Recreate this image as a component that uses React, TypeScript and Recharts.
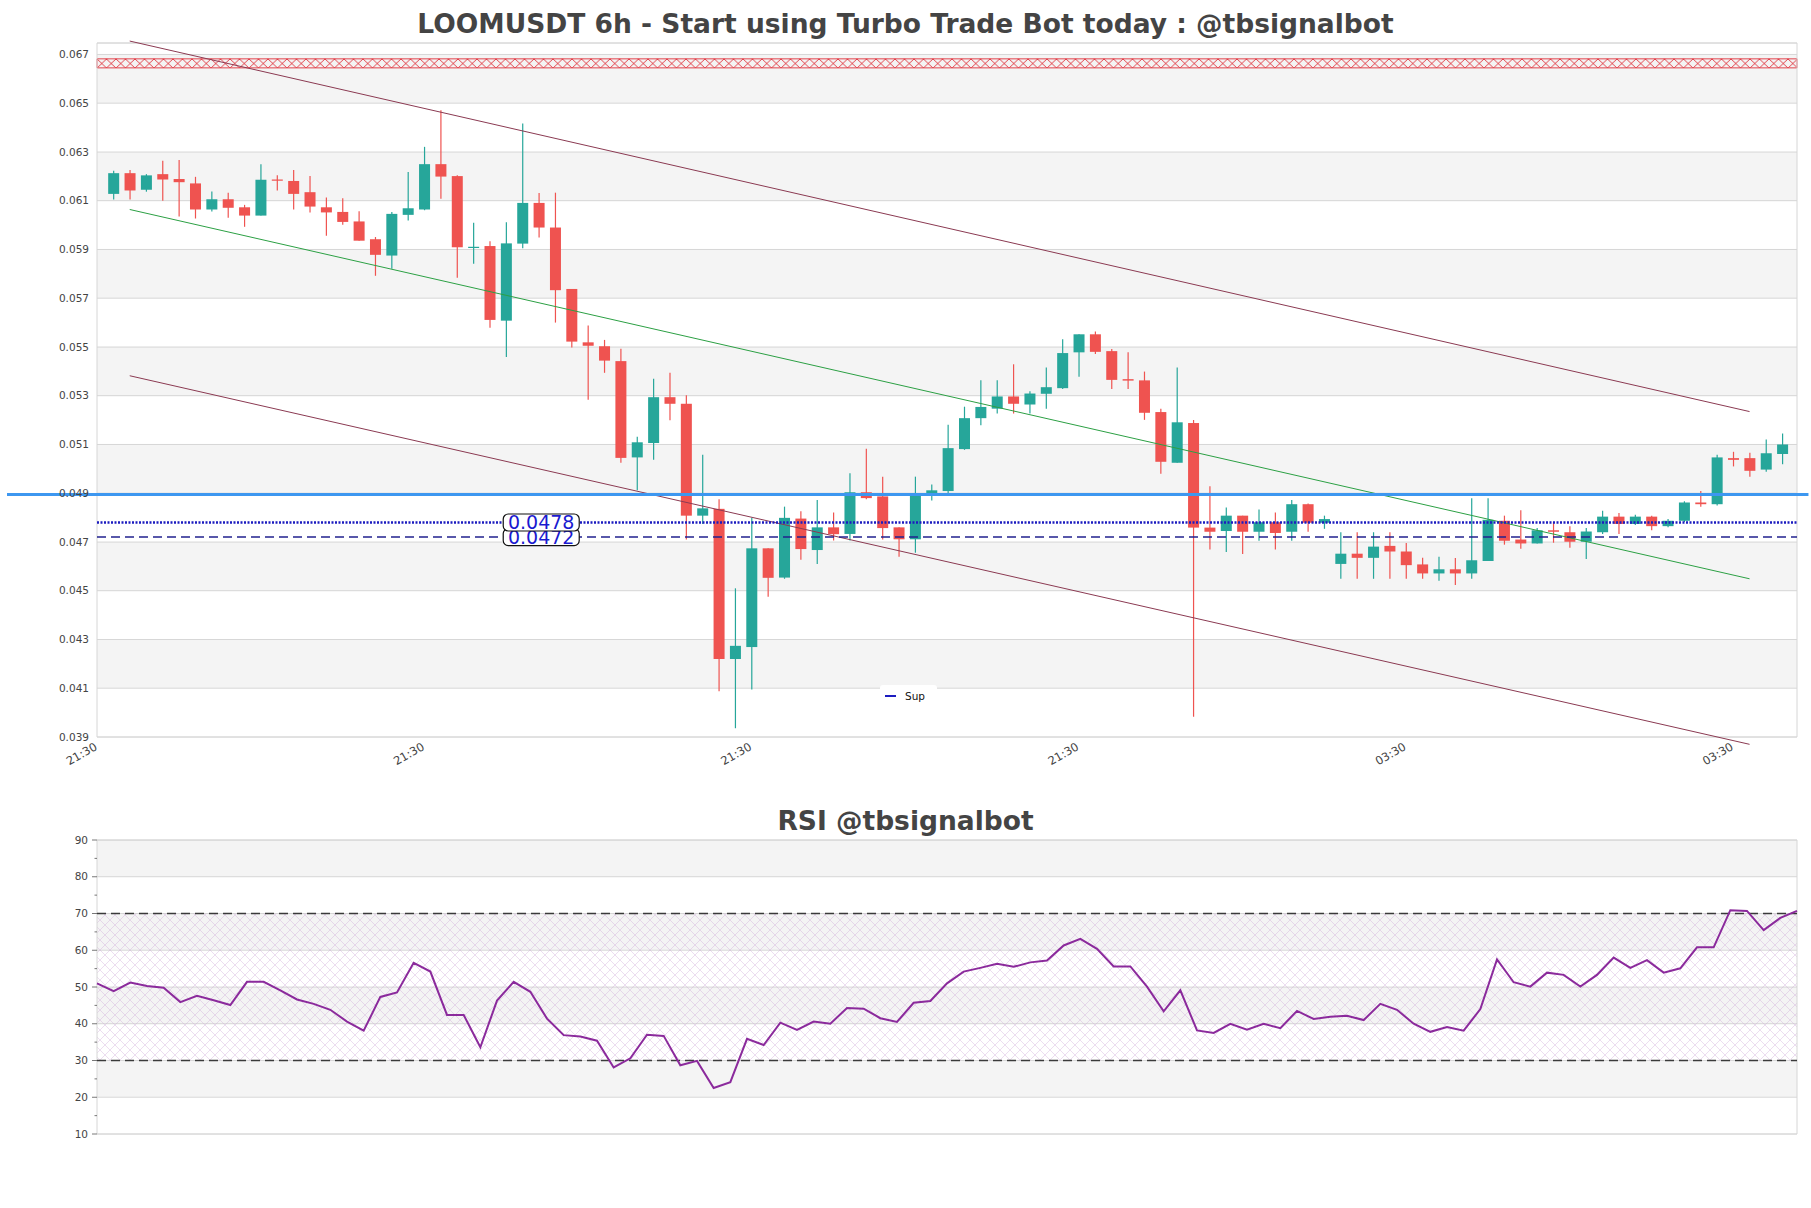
import React from 'react';
import {
  ComposedChart, Bar, Line, XAxis, YAxis, CartesianGrid,
  ReferenceArea, ReferenceLine, ReferenceDot,
} from 'recharts';

// ============================================================
// LOOMUSDT 6h candles + RSI panel (@tbsignalbot style)
// ============================================================

const opens = [
  0.06128, 0.06213, 0.06145, 0.06209, 0.06189, 0.06171, 0.06064, 0.06106, 0.06073, 0.06039,
  0.06187, 0.06181, 0.06135, 0.06073, 0.06054, 0.06015, 0.05942, 0.05875, 0.06042, 0.06064,
  0.06250, 0.06201, 0.05909, 0.05914, 0.05608, 0.05924, 0.06091, 0.05990, 0.05738, 0.05519,
  0.05503, 0.05442, 0.05047, 0.05106, 0.05294, 0.05267, 0.04808, 0.04836, 0.04220, 0.04269,
  0.04674, 0.04554, 0.04796, 0.04667, 0.04760, 0.04733, 0.04904, 0.04887, 0.04760, 0.04711,
  0.04892, 0.04909, 0.05081, 0.05208, 0.05247, 0.05297, 0.05264, 0.05308, 0.05331, 0.05478,
  0.05552, 0.05483, 0.05368, 0.05363, 0.05233, 0.05025, 0.05188, 0.04759, 0.04745, 0.04808,
  0.04742, 0.04781, 0.04742, 0.04855, 0.04779, 0.04610, 0.04652, 0.04635, 0.04684, 0.04661,
  0.04608, 0.04571, 0.04588, 0.04571, 0.04622, 0.04787, 0.04710, 0.04694, 0.04748, 0.04740,
  0.04701, 0.04740, 0.04804, 0.04774, 0.04804, 0.04765, 0.04787, 0.04862, 0.04855, 0.05044,
  0.05044, 0.04997, 0.05061,
];
const highs = [
  0.06223, 0.06226, 0.06209, 0.06264, 0.06267, 0.06198, 0.06138, 0.06133, 0.06083, 0.06250,
  0.06204, 0.06226, 0.06201, 0.06113, 0.06110, 0.06057, 0.05951, 0.06054, 0.06218, 0.06321,
  0.06471, 0.06204, 0.06010, 0.05934, 0.06012, 0.06417, 0.06132, 0.06133, 0.05738, 0.05588,
  0.05529, 0.05493, 0.05132, 0.05370, 0.05394, 0.05302, 0.05058, 0.04875, 0.04510, 0.04799,
  0.04674, 0.04845, 0.04826, 0.04872, 0.04821, 0.04982, 0.05083, 0.04968, 0.04760, 0.04968,
  0.04936, 0.05181, 0.05255, 0.05363, 0.05363, 0.05429, 0.05318, 0.05416, 0.05532, 0.05552,
  0.05563, 0.05492, 0.05478, 0.05399, 0.05247, 0.05416, 0.05200, 0.04929, 0.04841, 0.04808,
  0.04833, 0.04821, 0.04872, 0.04858, 0.04808, 0.04740, 0.04740, 0.04740, 0.04740, 0.04696,
  0.04635, 0.04639, 0.04634, 0.04879, 0.04879, 0.04808, 0.04830, 0.04757, 0.04782, 0.04765,
  0.04757, 0.04828, 0.04819, 0.04812, 0.04808, 0.04794, 0.04867, 0.04909, 0.05058, 0.05070,
  0.05066, 0.05120, 0.05145,
];
const lows = [
  0.06105, 0.06105, 0.06137, 0.06100, 0.06035, 0.06027, 0.06056, 0.06030, 0.05993, 0.06039,
  0.06142, 0.06064, 0.06052, 0.05956, 0.06001, 0.05936, 0.05792, 0.05821, 0.06019, 0.06061,
  0.06108, 0.05784, 0.05841, 0.05579, 0.05459, 0.05905, 0.05949, 0.05600, 0.05498, 0.05284,
  0.05394, 0.05025, 0.04912, 0.05037, 0.05199, 0.04710, 0.04774, 0.04088, 0.03936, 0.04095,
  0.04475, 0.04549, 0.04627, 0.04610, 0.04706, 0.04706, 0.04875, 0.04710, 0.04639, 0.04656,
  0.04870, 0.04895, 0.05078, 0.05179, 0.05227, 0.05227, 0.05227, 0.05247, 0.05328, 0.05378,
  0.05471, 0.05328, 0.05328, 0.05201, 0.04980, 0.05025, 0.03983, 0.04669, 0.04659, 0.04651,
  0.04705, 0.04669, 0.04705, 0.04742, 0.04754, 0.04549, 0.04549, 0.04549, 0.04549, 0.04549,
  0.04549, 0.04541, 0.04524, 0.04549, 0.04622, 0.04689, 0.04672, 0.04694, 0.04697, 0.04676,
  0.04630, 0.04733, 0.04733, 0.04770, 0.04748, 0.04760, 0.04782, 0.04845, 0.04850, 0.05010,
  0.04968, 0.04988, 0.05019,
];
const closes = [
  0.06213, 0.06142, 0.06204, 0.06187, 0.06176, 0.06064, 0.06106, 0.06071, 0.06039, 0.06186,
  0.06182, 0.06128, 0.06076, 0.06052, 0.06013, 0.05936, 0.05878, 0.06046, 0.06069, 0.06250,
  0.06199, 0.05909, 0.05911, 0.05611, 0.05925, 0.06091, 0.05990, 0.05733, 0.05522, 0.05505,
  0.05444, 0.05045, 0.05109, 0.05294, 0.05267, 0.04808, 0.04838, 0.04220, 0.04274, 0.04674,
  0.04553, 0.04799, 0.04671, 0.04760, 0.04732, 0.04904, 0.04880, 0.04757, 0.04711, 0.04892,
  0.04912, 0.05085, 0.05208, 0.05254, 0.05297, 0.05267, 0.05309, 0.05335, 0.05475, 0.05552,
  0.05480, 0.05365, 0.05362, 0.05230, 0.05029, 0.05191, 0.04759, 0.04742, 0.04808, 0.04742,
  0.04781, 0.04737, 0.04855, 0.04779, 0.04794, 0.04652, 0.04635, 0.04681, 0.04661, 0.04605,
  0.04571, 0.04588, 0.04571, 0.04625, 0.04791, 0.04705, 0.04694, 0.04748, 0.04742, 0.04701,
  0.04743, 0.04804, 0.04774, 0.04804, 0.04765, 0.04787, 0.04862, 0.04855, 0.05047, 0.05037,
  0.04992, 0.05064, 0.05100,
];

const rsiValues = [
  51.0, 48.9, 51.2, 50.3, 49.8, 45.9, 47.6, 46.4, 45.1, 51.4,
  51.4, 49.1, 46.6, 45.4, 43.8, 40.6, 38.1, 47.3, 48.5, 56.6,
  54.2, 42.4, 42.4, 33.6, 46.3, 51.4, 48.7, 41.4, 36.9, 36.5,
  35.4, 28.1, 30.6, 37.0, 36.7, 28.7, 29.9, 22.5, 24.1, 35.9,
  34.2, 40.3, 38.3, 40.6, 40.0, 44.3, 44.1, 41.5, 40.5, 45.7,
  46.2, 51.0, 54.2, 55.2, 56.3, 55.5, 56.7, 57.2, 61.3, 63.1,
  60.4, 55.6, 55.6, 50.1, 43.4, 49.1, 38.2, 37.5, 40.0, 38.4,
  40.0, 38.8, 43.5, 41.3, 41.9, 42.2, 41.0, 45.4, 43.8, 40.0,
  37.8, 39.1, 38.1, 44.0, 57.5, 51.3, 50.1, 53.9, 53.3, 50.1,
  53.3, 58.0, 55.2, 57.3, 53.9, 55.1, 60.8, 60.8, 70.9, 70.7,
  65.5, 68.8, 70.7,
];

const priceTicks = [
  0.039, 0.041, 0.043, 0.045, 0.047, 0.049, 0.051, 0.053, 0.055, 0.057, 0.059, 0.061, 0.063, 0.065, 0.067,
];
const priceBands = [
  [0.065, 0.067], [0.061, 0.063], [0.057, 0.059], [0.053, 0.055], [0.049, 0.051], [0.045, 0.047], [0.041, 0.043],
];
const timeTicks = [-1, 19, 39, 59, 79, 99];
const timeLabels = ['21:30', '21:30', '21:30', '21:30', '03:30', '03:30'];

const resistanceZone = [0.06645, 0.06682];
const blueLevel = 0.04895;
const supLevels = [0.0478, 0.0472];
const channelUpper = [[1, 0.06755], [100, 0.05235]];
const channelMid = [[1, 0.06064], [100, 0.04549]];
const channelLower = [[1, 0.05382], [100, 0.0387]];

const rsiTicks = [10, 15, 20, 25, 30, 35, 40, 45, 50, 55, 60, 65, 70, 75, 80, 85, 90];
const rsiGrid = [10, 20, 30, 40, 50, 60, 70, 80, 90];
const rsiBands = [[80, 90], [60, 70], [40, 50], [20, 30]];
const rsiLevels = [70, 30];

const UP = '#26a69a';
const DOWN = '#ef5350';
const X_DOMAIN: [number, number] = [-1, 102.9];
const Y_DOMAIN: [number, number] = [0.039, 0.06747];

const candles = opens.map((o, i) => ({
  i,
  open: o,
  high: highs[i],
  low: lows[i],
  close: closes[i],
  range: [lows[i], highs[i]],
}));
const rsiData = rsiValues.map((v, i) => ({ i, rsi: v }));

function Candle(props: any) {
  const { x, y, width, height, payload } = props;
  if (x == null || y == null) return null;
  const { open, close, high, low } = payload;
  const color = close >= open ? UP : DOWN;
  const top = Math.min(y, y + height);
  const h = Math.abs(height);
  const ratio = h / (high - low || 1);
  const yOf = (v: number) => top + (high - v) * ratio;
  const bodyTop = yOf(Math.max(open, close));
  const bodyH = Math.max(1.2, Math.abs(yOf(open) - yOf(close)));
  const cx = x + width / 2;
  return (
    <g>
      <line x1={cx} x2={cx} y1={top} y2={top + h} stroke={color} strokeWidth={1.2} />
      <rect x={x} y={bodyTop} width={width} height={bodyH} fill={color} />
    </g>
  );
}

function TimeTick({ x, y, payload }: any) {
  const idx = timeTicks.indexOf(payload.value);
  return (
    <g transform={`translate(${x + 1},${y + 12})`}>
      <text textAnchor="end" transform="rotate(-30)" fontSize={11.5} fill="#444">
        {timeLabels[idx]}
      </text>
    </g>
  );
}

function RsiTick({ x, y, payload }: any) {
  const major = payload.value % 10 === 0;
  return (
    <g>
      <line x1={x - (major ? 5 : 2.5)} x2={x} y1={y} y2={y} stroke="#555" strokeWidth={0.8} />
      {major && (
        <text x={x - 9} y={y} dy={3.5} textAnchor="end" fontSize={10.5} fill="#444">
          {payload.value}
        </text>
      )}
    </g>
  );
}

function LevelTag({ cx, cy, text }: any) {
  if (cx == null || cy == null) return null;
  return (
    <g>
      <rect x={cx - 38} y={cy - 8.5} width={76} height={17} rx={5} fill="#fff" stroke="#111" strokeWidth={1.2} />
      <text x={cx} y={cy} dy={6.5} textAnchor="middle" fontSize={19} fill="#1a1ad0">{text}</text>
    </g>
  );
}

export default function App() {
  return (
    <div
      style={{
        position: 'absolute', left: 0, top: 0, width: 1811, height: 1208,
        background: '#fff', fontFamily: "'DejaVu Sans', sans-serif", overflow: 'hidden',
      }}
    >
      <div
        style={{
          position: 'absolute', top: 8, left: 0, width: 1811, textAlign: 'center',
          fontSize: 26.5, fontWeight: 'bold', color: '#444', lineHeight: 'normal',
        }}
      >
        LOOMUSDT 6h - Start using Turbo Trade Bot today : @tbsignalbot
      </div>

      <div style={{ position: 'absolute', top: 0, left: 0 }}>
        <ComposedChart
          width={1811}
          height={800}
          data={candles}
          margin={{ top: 43, right: 14, bottom: 23, left: 37 }}
        >
          <defs>
            <pattern id="redHatch" patternUnits="userSpaceOnUse" width={9.5} height={9} y={59} x={97}>
              <path d="M0,0 L9.5,9 M9.5,0 L0,9" stroke="#e0303a" strokeWidth={0.9} fill="none" />
            </pattern>
          </defs>
          <CartesianGrid vertical={false} stroke="#dcdcdc" />
          <XAxis
            dataKey="i"
            type="number"
            domain={X_DOMAIN}
            ticks={timeTicks}
            axisLine={false}
            tickLine={false}
            tickSize={0}
            tickMargin={0}
            height={40}
            tick={<TimeTick />}
            interval={0}
          />
          <YAxis
            type="number"
            domain={Y_DOMAIN}
            ticks={priceTicks}
            width={60}
            axisLine={false}
            tickLine={false}
            tick={{ fontSize: 10.5, fill: '#444' }}
            tickFormatter={(v: number) => v.toFixed(3)}
            interval={0}
          />
          {priceBands.map(([a, b]) => (
            <ReferenceArea key={a} y1={a} y2={b} x1={X_DOMAIN[0]} x2={X_DOMAIN[1]}
              fill="#000" fillOpacity={0.045} stroke="none" />
          ))}
          <ReferenceArea
            y1={resistanceZone[0]} y2={resistanceZone[1]} x1={X_DOMAIN[0]} x2={X_DOMAIN[1]}
            fill="url(#redHatch)" fillOpacity={1} stroke="#e0303a" strokeWidth={0.9}
          />
          <ReferenceArea
            y1={Y_DOMAIN[0]} y2={Y_DOMAIN[1]} x1={X_DOMAIN[0]} x2={X_DOMAIN[1]}
            fill="none" stroke="#d6d6d6" strokeWidth={1} ifOverflow="visible"
          />
          <ReferenceLine
            segment={[{ x: channelUpper[0][0], y: channelUpper[0][1] }, { x: channelUpper[1][0], y: channelUpper[1][1] }]}
            stroke="#8b3a52" strokeWidth={1} ifOverflow="visible"
          />
          <ReferenceLine
            segment={[{ x: channelLower[0][0], y: channelLower[0][1] }, { x: channelLower[1][0], y: channelLower[1][1] }]}
            stroke="#8b3a52" strokeWidth={1} ifOverflow="visible"
          />
          <ReferenceLine
            segment={[{ x: channelMid[0][0], y: channelMid[0][1] }, { x: channelMid[1][0], y: channelMid[1][1] }]}
            stroke="#2ca044" strokeWidth={1} ifOverflow="visible"
          />
          <ReferenceLine
            segment={[{ x: -6.5, y: blueLevel }, { x: 103.6, y: blueLevel }]}
            stroke="#3d97f0" strokeWidth={3} ifOverflow="visible"
          />
          <ReferenceLine y={supLevels[0]} stroke="#1c1cc0" strokeWidth={2.5} strokeDasharray="2 1.5" />
          <ReferenceLine y={supLevels[1]} stroke="#22228f" strokeWidth={1.5} strokeDasharray="9 5" />
          <Bar dataKey="range" barSize={11} shape={<Candle />} isAnimationActive={false} />
          <ReferenceDot x={26.15} y={supLevels[1]} r={0} shape={(p: any) => <LevelTag {...p} text={supLevels[1].toFixed(4)} />} />
          <ReferenceDot x={26.15} y={supLevels[0]} r={0} shape={(p: any) => <LevelTag {...p} text={supLevels[0].toFixed(4)} />} />
        </ComposedChart>
      </div>

      <div
        style={{
          position: 'absolute', left: 880, top: 685, width: 57, height: 22, background: '#fff',
          borderRadius: 3, display: 'flex', alignItems: 'center', fontSize: 10.5, color: '#111',
        }}
      >
        <span style={{ display: 'inline-block', width: 11, height: 2.5, background: '#1c1cc0', marginLeft: 5, marginRight: 9 }} />
        Sup
      </div>

      <div
        style={{
          position: 'absolute', top: 805, left: 0, width: 1811, textAlign: 'center',
          fontSize: 26.5, fontWeight: 'bold', color: '#444', lineHeight: 'normal',
        }}
      >
        RSI @tbsignalbot
      </div>

      <div style={{ position: 'absolute', top: 800, left: 0 }}>
        <ComposedChart
          width={1811}
          height={380}
          data={rsiData}
          margin={{ top: 40, right: 14, bottom: 46, left: 37 }}
        >
          <defs>
            <pattern id="rsiHatch" patternUnits="userSpaceOnUse" width={10} height={10}>
              <path d="M0,0 L10,10 M10,0 L0,10" stroke="#c9a0d6" strokeWidth={0.6} strokeOpacity={0.6} fill="none" />
            </pattern>
          </defs>
          <CartesianGrid vertical={false} stroke="#dcdcdc" horizontalValues={rsiGrid} />
          <XAxis dataKey="i" type="number" domain={[0, rsiValues.length - 1]} hide />
          <YAxis
            type="number"
            domain={[10, 90]}
            ticks={rsiTicks}
            width={60}
            axisLine={false}
            tickLine={false}
            tickSize={0}
            tickMargin={0}
            tick={<RsiTick />}
            interval={0}
          />
          {rsiBands.map(([a, b]) => (
            <ReferenceArea key={a} y1={a} y2={b} fill="#000" fillOpacity={0.045} stroke="none" />
          ))}
          <ReferenceArea y1={30} y2={70} fill="url(#rsiHatch)" fillOpacity={1} stroke="none" />
          <ReferenceArea y1={10} y2={90} fill="none" stroke="#d6d6d6" strokeWidth={1} ifOverflow="visible" />
          {rsiLevels.map((v) => (
            <ReferenceLine key={v} y={v} stroke="#3a3a3a" strokeWidth={1.3} strokeDasharray="9 5" />
          ))}
          <Line dataKey="rsi" stroke="#8b2a9c" strokeWidth={2} dot={false} isAnimationActive={false} />
        </ComposedChart>
      </div>
    </div>
  );
}
